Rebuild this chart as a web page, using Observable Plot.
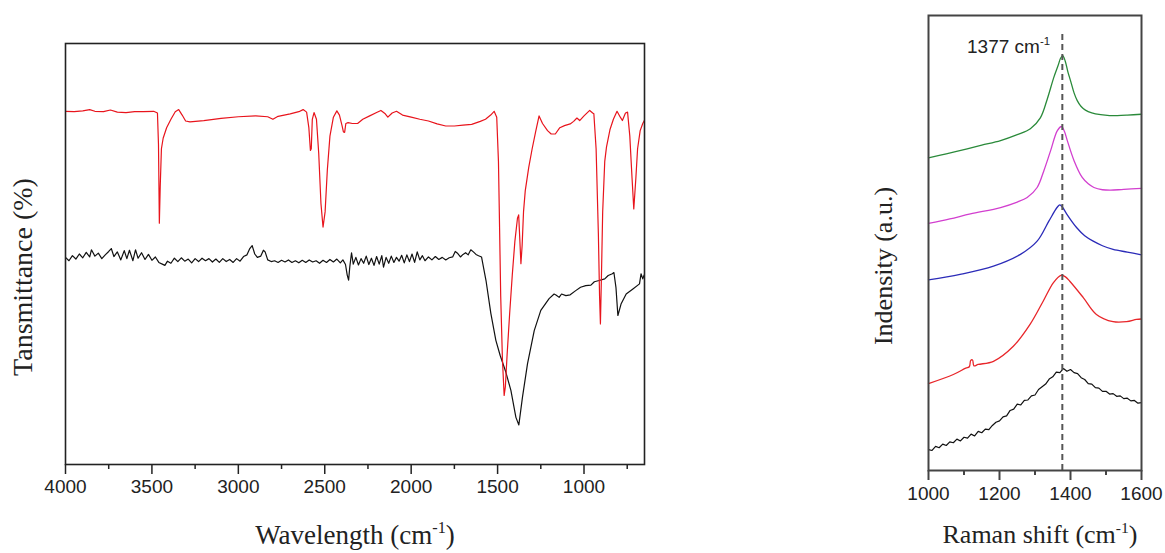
<!DOCTYPE html>
<html><head><meta charset="utf-8">
<script src="https://cdn.jsdelivr.net/npm/d3@7"></script>
<script src="https://cdn.jsdelivr.net/npm/@observablehq/plot@0.6"></script>
<style>
body{margin:0;background:#fff;}
#wrap{position:relative;width:1165px;height:553px;overflow:hidden;background:#fff;}
.p{position:absolute;top:0;}
.lab{position:absolute;font-family:"Liberation Serif","Times New Roman",serif;color:#222;white-space:nowrap;line-height:1;}
.lab sup{font-size:0.6em;vertical-align:0.65em;line-height:0;}
.ann{position:absolute;font-family:"Liberation Sans",Arial,sans-serif;color:#222;white-space:nowrap;line-height:1;}
.ann sup{font-size:0.6em;vertical-align:0.7em;line-height:0;}
</style></head><body><div id="wrap"></div>
<script>
// ---------- FT-IR (left) ----------
const irMajorTicks = [4000, 3500, 3000, 2500, 2000, 1500, 1000];
const irMinorTicks = [3750, 3250, 2750, 2250, 1750, 1250, 750];

const irRedWn = [4000,3950,3900,3860,3830,3780,3740,3700,3650,3600,3550,3490,3468,3462,3457,3452,3445,3435,3415,3390,3365,3345,3325,3305,3280,3200,3100,3000,2900,2830,2800,2770,2700,2650,2625,2605,2592,2583,2578,2572,2562,2548,2535,2522,2510,2498,2485,2470,2450,2430,2415,2400,2392,2385,2378,2365,2340,2310,2280,2240,2200,2175,2150,2135,2110,2085,2050,2000,1950,1900,1850,1800,1750,1700,1650,1600,1570,1540,1520,1505,1495,1490,1482,1472,1462,1455,1445,1430,1415,1400,1385,1378,1372,1365,1358,1350,1340,1320,1300,1280,1260,1240,1211,1190,1166,1140,1113,1080,1060,1041,1025,1000,967,950,943,930,917,910,905,899,892,880,870,850,830,809,790,778,760,748,735,722,712,700,690,675,660,651];
const irRedT = [83.9,83.8,84.0,84.3,83.9,83.8,84.2,83.7,83.6,83.8,83.8,83.9,83.5,76.0,57.3,66.0,75.0,77.5,80.0,82.0,83.8,84.3,83.0,81.6,81.4,81.7,82.2,82.6,82.8,82.6,82.0,82.7,83.3,83.8,84.3,83.7,80.0,74.6,75.0,82.0,83.6,82.0,74.0,62.0,56.4,60.0,70.0,78.0,82.5,84.0,83.0,80.5,79.0,78.9,81.0,81.2,81.0,81.0,82.0,82.8,83.6,84.1,83.3,82.5,83.5,83.9,83.0,82.5,82.0,81.6,80.9,80.4,80.4,80.6,80.8,81.5,82.0,83.0,83.9,82.5,72.0,60.0,40.0,25.0,16.4,18.5,26.0,36.0,45.0,53.0,58.5,59.3,54.0,47.7,52.0,60.0,65.0,70.5,75.0,79.0,82.8,81.0,79.3,78.5,78.5,80.0,80.5,80.9,81.5,82.3,81.7,82.8,84.1,83.5,83.3,75.0,55.0,40.0,33.4,45.0,60.0,72.0,75.4,79.5,82.0,83.9,82.5,81.7,83.5,83.7,78.0,68.0,60.7,68.0,75.0,79.3,81.0,81.7];

const irBlackWn = [4000,3980,3960,3940,3920,3900,3880,3860,3850,3830,3810,3790,3770,3750,3735,3720,3700,3680,3660,3645,3630,3610,3595,3580,3560,3540,3520,3500,3480,3460,3440,3425,3410,3390,3370,3350,3330,3310,3290,3270,3250,3230,3210,3190,3170,3150,3130,3110,3090,3070,3050,3030,3010,2990,2970,2950,2935,2920,2905,2890,2870,2855,2845,2830,2810,2790,2770,2750,2730,2710,2690,2670,2650,2630,2610,2590,2570,2550,2530,2510,2490,2470,2450,2430,2410,2395,2380,2370,2362,2355,2345,2335,2320,2305,2290,2275,2260,2245,2230,2215,2200,2185,2170,2160,2145,2130,2115,2100,2085,2070,2055,2040,2025,2010,1995,1980,1965,1950,1935,1920,1900,1880,1860,1840,1820,1800,1780,1760,1745,1730,1715,1700,1685,1670,1655,1640,1625,1610,1593,1567,1539,1510,1485,1452,1423,1394,1377,1356,1327,1288,1250,1202,1173,1160,1144,1130,1105,1080,1048,1020,990,960,940,913,880,860,836,827,815,804,785,756,717,679,670,660,652];
const irBlackT = [49.2,48.4,49.6,48.8,50.0,49.1,50.4,49.3,51.0,49.5,50.2,48.9,49.8,50.6,51.3,49.4,50.5,48.6,50.8,48.9,50.9,48.4,51.0,49.0,50.3,48.7,49.9,48.5,49.3,48.0,47.6,47.3,48.3,47.8,49.0,48.2,49.1,48.3,48.8,47.9,48.9,48.2,49.0,48.4,48.9,48.1,48.8,48.0,48.9,48.2,48.7,48.0,48.9,48.3,49.4,49.8,51.2,52.0,50.0,49.2,49.5,50.9,50.5,48.6,48.2,48.4,48.0,48.5,48.1,48.6,48.0,48.4,47.9,48.5,48.0,48.6,48.1,48.4,47.8,48.5,48.0,48.7,48.1,48.8,47.9,48.6,47.5,45.0,43.8,47.0,50.3,47.6,49.2,47.4,48.9,47.8,49.5,47.5,49.0,47.3,49.4,47.6,49.6,46.9,49.2,47.8,49.5,48.0,49.2,48.3,49.7,47.9,49.8,48.2,50.0,48.0,50.5,48.6,49.6,48.4,49.3,48.6,49.4,48.7,49.2,48.6,49.1,49.3,50.6,50.1,49.3,49.9,50.3,49.8,51.0,50.5,49.9,49.6,49.3,43.7,35.9,29.5,25.9,21.9,17.6,11.2,9.4,16.0,23.9,31.8,36.6,39.4,40.5,40.2,39.7,40.5,40.1,40.3,41.3,42.1,42.5,42.6,43.4,43.7,44.1,44.9,45.3,45.6,42.0,35.4,38.2,40.5,41.7,42.9,45.3,44.1,45.0];

// ---------- Raman (right) ----------
const ramanMajorTicks = [1000, 1200, 1400, 1600];
const ramanMinorTicks = [1100, 1300, 1500];
const peakPosition = 1377;

const greenShift = [1000,1050,1109,1150,1203,1250,1287,1315,1334,1353,1365,1372,1378,1385,1393,1400,1410,1419,1430,1442,1460,1485,1510,1532,1560,1600];
const greenI = [68.7,69.6,70.7,71.5,72.5,73.8,75.1,77.5,81.5,86.4,89.0,90.6,91.2,90.0,87.5,85.7,83.0,81.3,80.0,79.2,78.6,78.2,78.0,78.0,78.1,78.3];

const magentaShift = [1000,1060,1118,1203,1250,1278,1306,1325,1344,1363,1375,1383,1391,1410,1433,1450,1466,1490,1513,1550,1600];
const magentaI = [54.3,55.3,56.4,57.8,59.0,60.0,62.2,65.9,70.3,74.7,75.6,74.5,72.5,68.1,64.4,63.0,62.2,61.7,61.6,61.8,62.0];

const blueShift = [1000,1089,1183,1259,1306,1339,1362,1370,1378,1389,1417,1440,1464,1490,1520,1560,1600];
const blueI = [41.9,43.1,44.9,47.5,50.4,54.8,57.8,58.4,57.8,56.4,53.4,51.6,50.4,49.4,48.6,48.0,47.4];

const redShift = [1000,1070,1105,1115,1119,1124,1128,1140,1183,1239,1286,1323,1352,1373,1385,1398,1436,1473,1520,1558,1586,1600];
const redI = [19.1,21.1,22.5,22.8,24.2,24.3,23.0,23.3,24.0,27.3,32.1,37.2,41.3,42.9,42.6,41.6,38.0,34.3,32.7,32.7,33.2,33.3];

const blackShift = [1000,1010,1020,1030,1040,1050,1060,1070,1080,1090,1100,1110,1120,1130,1140,1150,1160,1170,1180,1190,1200,1210,1220,1230,1240,1250,1260,1270,1280,1290,1300,1310,1320,1330,1340,1350,1360,1370,1380,1390,1400,1410,1420,1430,1440,1450,1460,1470,1480,1490,1500,1510,1520,1530,1540,1550,1560,1570,1580,1590,1600];
const blackI = [4.6,4.4,5.3,5.0,5.8,5.5,6.3,6.1,6.9,6.5,7.3,7.1,8.0,7.6,8.6,8.3,9.1,9.0,9.9,10.6,10.9,11.8,12.0,13.2,13.5,14.6,14.4,15.4,15.5,16.4,16.6,17.8,18.4,19.0,20.1,20.6,21.6,21.5,22.4,21.8,22.2,21.5,21.3,20.4,20.0,19.1,19.0,18.2,18.1,17.4,17.4,16.8,16.9,16.3,16.4,15.8,15.9,15.3,15.4,14.8,14.9];

const rows = (xs, ys) => xs.map((x, i) => ({x, y: ys[i]}));

const axisStyle = {fontFamily: "'Liberation Sans', Arial, sans-serif", fontSize: "19px", color: "#222", background: "transparent", overflow: "visible"};

const irPlot = Plot.plot({
  width: 660, height: 553,
  marginLeft: 65, marginRight: 16, marginTop: 43, marginBottom: 89,
  x: {domain: [4000, 650], label: null},
  y: {domain: [0, 100], axis: null},
  style: axisStyle,
  marks: [
    Plot.axisX(irMajorTicks, {tickSize: 10, tickPadding: 5, tickFormat: d => String(d), label: null, fontSize: 19, strokeWidth: 1.5}),
    Plot.axisX(irMinorTicks, {tickSize: 5, tickFormat: () => "", label: null, strokeWidth: 1.5}),
    Plot.line(rows(irBlackWn, irBlackT), {x: "x", y: "y", stroke: "#111", strokeWidth: 1.2}),
    Plot.line(rows(irRedWn, irRedT), {x: "x", y: "y", stroke: "#e8141c", strokeWidth: 1.2}),
    Plot.frame({stroke: "#222", strokeWidth: 1.6})
  ]
});

const ramanPlot = Plot.plot({
  width: 305, height: 553,
  marginLeft: 68, marginRight: 24, marginTop: 15, marginBottom: 83,
  x: {domain: [1000, 1600], label: null},
  y: {domain: [0, 100], axis: null},
  style: axisStyle,
  marks: [
    Plot.axisX(ramanMajorTicks, {tickSize: 10, tickPadding: 6, tickFormat: d => String(d), label: null, fontSize: 19, stroke: "#444", strokeWidth: 2}),
    Plot.axisX(ramanMinorTicks, {tickSize: 5, tickFormat: () => "", label: null, stroke: "#444", strokeWidth: 2}),
    Plot.line(rows(blackShift, blackI), {x: "x", y: "y", stroke: "#111", strokeWidth: 1.2}),
    Plot.line(rows(redShift, redI), {x: "x", y: "y", stroke: "#e8262a", strokeWidth: 1.3, curve: "catmull-rom"}),
    Plot.line(rows(blueShift, blueI), {x: "x", y: "y", stroke: "#2b2bb8", strokeWidth: 1.3, curve: "catmull-rom"}),
    Plot.line(rows(magentaShift, magentaI), {x: "x", y: "y", stroke: "#d23fcf", strokeWidth: 1.3, curve: "catmull-rom"}),
    Plot.line(rows(greenShift, greenI), {x: "x", y: "y", stroke: "#2a8a3a", strokeWidth: 1.3, curve: "catmull-rom"}),
    Plot.ruleX([peakPosition], {y1: 0, y2: 96, stroke: "#555", strokeWidth: 2, strokeDasharray: "6,4"}),
    Plot.frame({stroke: "#444", strokeWidth: 2})
  ]
});

const wrap = document.getElementById("wrap");
irPlot.classList.add("p"); irPlot.style.left = "0px";
ramanPlot.classList.add("p"); ramanPlot.style.left = "860px";
wrap.appendChild(irPlot);
wrap.appendChild(ramanPlot);

function addLabel(html, cls, css) {
  const d = document.createElement("div");
  d.className = cls;
  d.innerHTML = html;
  Object.assign(d.style, css);
  wrap.appendChild(d);
}
addLabel("Wavelength (cm<sup>-1</sup>)", "lab", {left: "355px", top: "522px", fontSize: "27px", transform: "translateX(-50%)"});
addLabel("Tansmittance (%)", "lab", {left: "23px", top: "277px", fontSize: "28px", transform: "translate(-50%,-50%) rotate(-90deg)"});
addLabel("Raman shift (cm<sup>-1</sup>)", "lab", {left: "1040px", top: "522px", fontSize: "26px", transform: "translateX(-50%)"});
addLabel("Indensity (a.u.)", "lab", {left: "884px", top: "266px", fontSize: "26px", transform: "translate(-50%,-50%) rotate(-90deg)"});
addLabel(peakPosition + " cm<sup>-1</sup>", "ann", {left: "967px", top: "37px", fontSize: "19px"});
</script></body></html>
